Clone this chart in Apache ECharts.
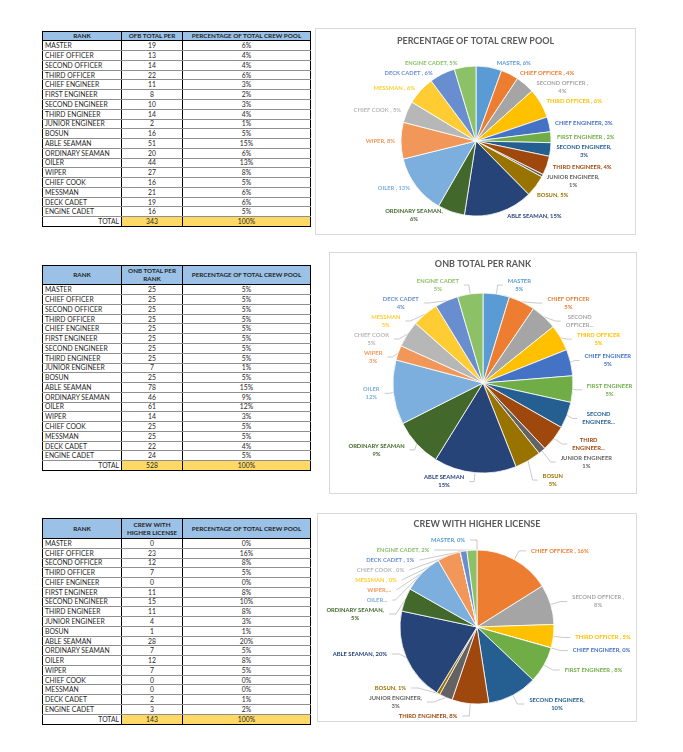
<!DOCTYPE html>
<html>
<head>
<meta charset="utf-8">
<script src="https://cdn.jsdelivr.net/npm/echarts@6/dist/echarts.min.js"></script>
<style>
  html, body { margin:0; padding:0; background:#fff; width:683px; height:752px; overflow:hidden; }
  .tbl { position:absolute; border-collapse:collapse; table-layout:fixed; font-family:Lato, 'Open Sans', sans-serif; font-size:6.8px; color:#262626; }
  .tbl td, .tbl th { padding:0 2px; overflow:hidden; white-space:nowrap; border-left:1px solid #000; border-right:1px solid #000; border-bottom:1px solid #8f8f8f; line-height:7px; }
  .tbl th { background:#9bc2e6; border:1px solid #000; font-weight:bold; font-size:6.3px; color:#1e1e1e; text-align:center; white-space:normal; line-height:8px; }
  .tbl td.num { text-align:center; }
  .tbl tr.body { height:9.78px; }
  .tbl tr.total td { border-top:1px solid #000; border-bottom:1.5px solid #000; }
  .tbl tr.total td.lab { text-align:right; }
  .tbl tr.total td.yel { background:#ffd966; text-align:center; }
  .box { position:absolute; border:1px solid #d9d9d9; box-sizing:border-box; background:#fff; }
  .box .ch { position:absolute; left:0; top:0; width:100%; height:100%; }
</style>
</head>
<body>
<table class="tbl" id="t1" style="left:42px; top:31px; width:268px;"></table>
<table class="tbl" id="t2" style="left:42px; top:265px; width:268px;"></table>
<table class="tbl" id="t3" style="left:42px; top:518px; width:268px;"></table>

<div class="box" style="left:315px; top:28px; width:321px; height:207px;"><div class="ch" id="c1"></div></div>
<div class="box" style="left:329px; top:252px; width:308px; height:242px;"><div class="ch" id="c2"></div></div>
<div class="box" style="left:317px; top:513px; width:320px; height:209px;"><div class="ch" id="c3"></div></div>

<script>
// ---------- data ----------
const ranks = ['MASTER','CHIEF OFFICER','SECOND OFFICER','THIRD OFFICER','CHIEF ENGINEER','FIRST ENGINEER',
  'SECOND ENGINEER','THIRD ENGINEER','JUNIOR ENGINEER','BOSUN','ABLE SEAMAN','ORDINARY SEAMAN','OILER',
  'WIPER','CHIEF COOK','MESSMAN','DECK CADET','ENGINE CADET'];

const ofbValues = [19,13,14,22,11,8,10,14,2,16,51,20,44,27,16,21,19,16];
const ofbPct    = [6,4,4,6,3,2,3,4,1,5,15,6,13,8,5,6,6,5];

const onbValues = [25,25,25,25,25,25,25,25,7,25,78,46,61,14,25,25,22,24];
const onbPct    = [5,5,5,5,5,5,5,5,1,5,15,9,12,3,5,5,4,5];

const licValues = [0,23,12,7,0,11,15,11,4,1,28,7,12,7,0,0,2,3];
const licPct    = [0,16,8,5,0,8,10,8,3,1,20,5,8,5,0,0,1,2];

// totals as printed in the tables
const totals = [343, 528, 143];

const headers1 = ['RANK','OFB TOTAL PER','PERCENTAGE OF TOTAL CREW POOL'];
const headers2 = ['RANK','ONB TOTAL PER RANK','PERCENTAGE OF TOTAL CREW POOL'];
const headers3 = ['RANK','CREW WITH HIGHER LICENSE','PERCENTAGE OF TOTAL CREW POOL'];

const titles = ['PERCENTAGE OF TOTAL CREW POOL','ONB TOTAL PER RANK','CREW WITH HIGHER LICENSE'];

// label text quirks as shown in the source charts
const spacedComma = ['CHIEF OFFICER','SECOND OFFICER','THIRD OFFICER','FIRST ENGINEER','OILER','CHIEF COOK','MESSMAN','DECK CADET'];
const wrap1 = ['SECOND OFFICER','SECOND ENGINEER','JUNIOR ENGINEER','ORDINARY SEAMAN'];
const wrap3 = ['SECOND OFFICER','SECOND ENGINEER','JUNIOR ENGINEER','ORDINARY SEAMAN'];
const trunc2 = {'SECOND OFFICER':'SECOND\nOFFICER...','SECOND ENGINEER':'SECOND\nENGINEER...','THIRD ENGINEER':'THIRD\nENGINEER...'};
const trunc3 = {'OILER':'OILER...','WIPER':'WIPER,...'};

const sliceColors = ['#5B9BD5','#ED7D31','#A5A5A5','#FFC000','#4472C4','#70AD47','#255E91','#9E480E','#636363',
  '#997300','#264478','#43682B','#7CAFDD','#F1975A','#B7B7B7','#FFCD33','#698ED0','#8CC168'];

// ---------- tables ----------
function buildTable(id, headers, values, pcts, total, headH) {
  const t = document.getElementById(id);
  let h = '<colgroup><col style="width:79px"><col style="width:61px"><col style="width:128px"></colgroup>';
  h += '<tr style="height:' + headH + 'px">' + headers.map(x => '<th>' + x + '</th>').join('') + '</tr>';
  ranks.forEach((r, i) => {
    h += '<tr class="body"><td>' + r + '</td><td class="num">' + values[i] + '</td><td class="num">' + pcts[i] + '%</td></tr>';
  });
  h += '<tr class="body total"><td class="lab">TOTAL</td><td class="yel">' + total + '</td><td class="yel">100%</td></tr>';
  t.innerHTML = h;
}
buildTable('t1', headers1, ofbValues, ofbPct, totals[0], 9.4);
buildTable('t2', headers2, onbValues, onbPct, totals[1], 19.4);
buildTable('t3', headers3, licValues, licPct, totals[2], 20);

// ---------- pies ----------
const FONT = 'Lato';
function sep(name) { return spacedComma.indexOf(name) >= 0 ? ' , ' : ', '; }
function centered(text) { return text.split('\n').map(s => '{c|' + s + '}').join('\n'); }

function fmt1(p) {
  const n = p.name, v = ofbPct[p.dataIndex] + '%';
  if (wrap1.indexOf(n) >= 0) return centered(n + sep(n).replace(/\s+$/, '') + '\n' + v);
  return centered(n + sep(n) + v);
}
function fmt2(p) {
  const n = p.name, v = onbPct[p.dataIndex] + '%';
  if (trunc2[n]) return centered(trunc2[n]);
  return centered(n + '\n' + v);
}
function fmt3(p) {
  const n = p.name, v = licPct[p.dataIndex] + '%';
  if (trunc3[n]) return centered(trunc3[n]);
  if (wrap3.indexOf(n) >= 0) return centered(n + sep(n).replace(/\s+$/, '') + '\n' + v);
  return centered(n + sep(n) + v);
}

function pieOption(title, titleTop, values, fmt, center, radius, showLine, len, len2) {
  return {
    animation: false,
    title: { text: title, left: 'center', top: titleTop,
      textStyle: { fontFamily: FONT, fontWeight: 'bold', fontSize: 9, color: '#595959' } },
    series: [{
      type: 'pie', center: center, radius: radius, startAngle: 90, clockwise: true,
      left: -40, right: -40, top: 0, bottom: 0,
      avoidLabelOverlap: true, bleedMargin: 0,
      color: sliceColors,
      data: ranks.map((n, i) => ({ name: n, value: values[i] })),
      itemStyle: { borderColor: '#ffffff', borderWidth: 0.8 },
      label: { show: true, position: 'outside', color: 'inherit', fontFamily: FONT, fontWeight: 'bold', fontSize: 5.8,
        lineHeight: 8, formatter: fmt,
        rich: { c: { align: 'center', fontFamily: FONT, fontWeight: 'bold', fontSize: 5.8, lineHeight: 8 } } },
      labelLine: { show: showLine, length: len, length2: len2, smooth: false,
        lineStyle: { color: '#a6a6a6', width: 0.6 } },
      emphasis: { disabled: true }
    }]
  };
}

// pie centres are given relative to the series box, which starts 40px left of the chart area
const c1 = echarts.init(document.getElementById('c1'));
c1.setOption(pieOption(titles[0], 3, ofbValues, fmt1, [200, 112], 75, false, 4, 2));
const c2 = echarts.init(document.getElementById('c2'));
c2.setOption(pieOption(titles[1], 2, onbValues, fmt2, [193, 130], 90, true, 9, 5));
const c3 = echarts.init(document.getElementById('c3'));
c3.setOption(pieOption(titles[2], 1, licValues, fmt3, [199, 113], 77, true, 10, 7));
</script>
</body>
</html>
